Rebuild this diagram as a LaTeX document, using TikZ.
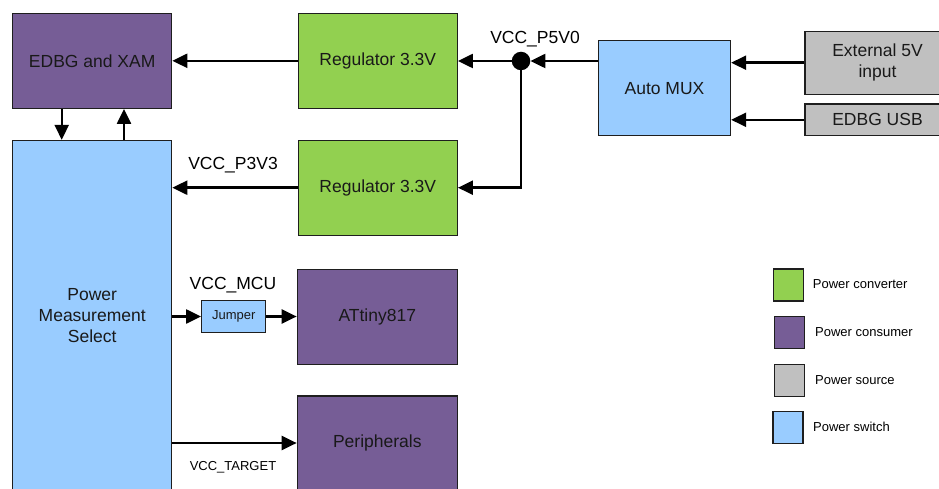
\documentclass[tikz,border=0pt]{standalone}
\usepackage{fontspec}
\setmainfont{Liberation Sans}
\usetikzlibrary{arrows.meta}
\definecolor{cgreen}{RGB}{146,208,80}
\definecolor{cpurple}{RGB}{118,93,150}
\definecolor{cgrey}{RGB}{192,192,192}
\definecolor{cblue}{RGB}{153,204,255}
\definecolor{cline}{RGB}{30,30,30}
\tikzset{
  blk/.style={draw=cline, line width=1.3pt, inner sep=0pt, align=center,
    font=\fontsize{17.5}{21}\selectfont, text=black!90},
  conv/.style={blk, fill=cgreen},
  cons/.style={blk, fill=cpurple},
  src/.style={blk, fill=cgrey},
  sw/.style={blk, fill=cblue},
  arr/.style={draw=black, line width=2.4pt, -{Triangle[length=15pt,width=14pt]}},
  lbl/.style={font=\fontsize{17.5}{21}\selectfont, inner sep=0pt},
  slbl/.style={font=\fontsize{13}{15}\selectfont, inner sep=0pt},
  legbox/.style={draw=cline, line width=1.3pt, minimum width=30pt, minimum height=32pt, inner sep=0pt},
  legtxt/.style={font=\fontsize{13}{15}\selectfont, inner sep=0pt, anchor=west}
}
\begin{document}
\begin{tikzpicture}[x=1pt,y=-1pt]
\useasboundingbox (0,0) rectangle (939,489);
\clip (0,0) rectangle (939,489);
\fill[white] (0,0) rectangle (939,489);
% blocks
\node[cons, minimum width=159pt, minimum height=95pt] (edbg) at (92.2,60.8) {EDBG and XAM};
\node[conv, minimum width=159pt, minimum height=95pt] (regA) at (377.8,60.8) {Regulator 3.3V};
\node[conv, minimum width=159pt, minimum height=95pt] (regB) at (377.8,187.7) {Regulator 3.3V};
\node[sw, minimum width=159pt, minimum height=350pt] (pms) at (92.2,315.5) {Power\\Measurement\\Select};
\node[sw, minimum width=132pt, minimum height=95pt] (mux) at (664.5,88.2) {Auto MUX};
\node[src, minimum width=145pt, minimum height=63pt] (ext) at (877.5,62.7) {External 5V\\input};
\node[src, minimum width=145pt, minimum height=31.7pt] (usb) at (877.5,119.8) {EDBG USB};
\node[sw, minimum width=64pt, minimum height=31.6pt, font=\fontsize{13}{15}\selectfont] (jmp) at (233.7,316.5) {Jumper};
\node[cons, minimum width=160pt, minimum height=95pt] (tiny) at (377.3,316.7) {ATtiny817};
\node[cons, minimum width=160pt, minimum height=94pt] (peri) at (377.3,443) {Peripherals};
\node[circle, fill=black, minimum size=18.5pt, inner sep=0pt] (dot) at (521,61) {};
% labels
\node[lbl] (lp5) at (535,39) {VCC\_P5V0};
\node[lbl] (lp3) at (233,165) {VCC\_P3V3};
\node[lbl] (lmcu) at (233,285) {VCC\_MCU};
\node[slbl] (ltgt) at (233,467) {VCC\_TARGET};
% connectors
\draw[arr] (regA.west) -- (edbg.east);
\draw[arr] (mux.west |- dot) -- (dot);
\draw[arr] (dot) -- (dot -| regA.east);
\draw[arr] (dot.center) |- (regB.east);
\draw[arr] (ext.west) -- (ext.west -| mux.east);
\draw[arr] (usb.west) -- (usb.west -| mux.east);
\draw[arr] (regB.west) -- (regB.west -| pms.east);
\draw[arr] ([xshift=-30.5pt]edbg.south) -- ([xshift=-30.5pt]edbg.south |- pms.north);
\draw[arr] ([xshift=31.8pt]pms.north) -- ([xshift=31.8pt]pms.north |- edbg.south);
\draw[arr] (pms.east |- jmp.west) -- (jmp.west);
\draw[arr] (jmp.east) -- (jmp.east -| tiny.west);
\draw[arr] (pms.east |- peri.west) -- (peri.west);
% legend
\node[legbox, fill=cgreen] (lg1) at (788.3,285) {};
\node[legbox, fill=cpurple] (lg2) at (789.3,332.7) {};
\node[legbox, fill=cgrey] (lg3) at (789.3,380.2) {};
\node[legbox, fill=cblue] (lg4) at (788,427.7) {};
\node[legtxt] (lt1) at (812.7,284.3) {Power converter};
\node[legtxt] (lt2) at (815,332) {Power consumer};
\node[legtxt] (lt3) at (815,380) {Power source};
\node[legtxt] (lt4) at (813,426.7) {Power switch};
\end{tikzpicture}
\end{document}
